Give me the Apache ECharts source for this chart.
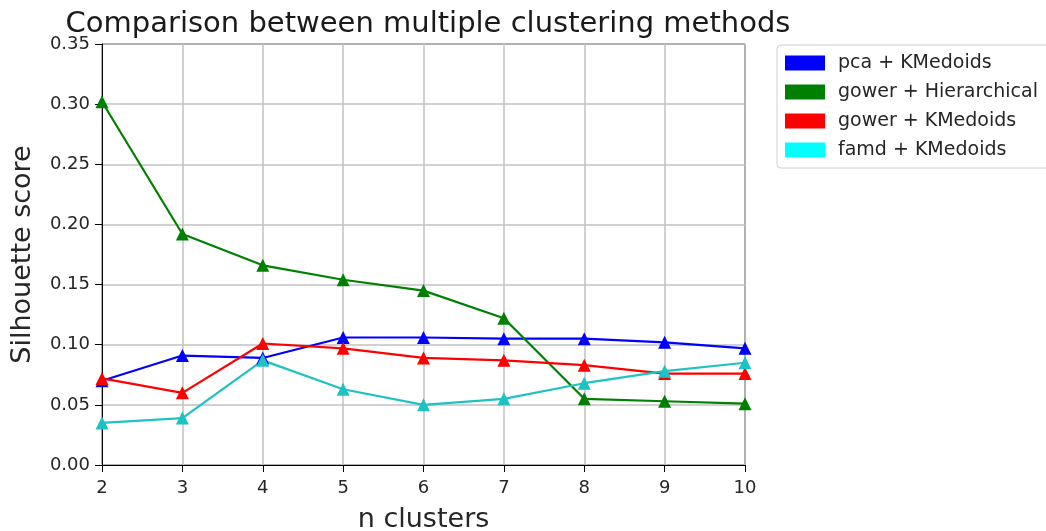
<!DOCTYPE html>
<html><head><meta charset="utf-8">
<script src="https://cdn.jsdelivr.net/npm/echarts@6/dist/echarts.min.js"></script>
<style>html,body{margin:0;padding:0;background:#fff}#c{width:1046px;height:531px}</style>
</head><body><div id="c"></div>
<script>
const nClusters = [2, 3, 4, 5, 6, 7, 8, 9, 10];
const seriesNames = ['pca + KMedoids', 'gower + Hierarchical', 'gower + KMedoids', 'famd + KMedoids'];
const pcaKMedoids = [0.070, 0.091, 0.089, 0.106, 0.106, 0.105, 0.105, 0.102, 0.097];
const gowerHierarchical = [0.302, 0.192, 0.166, 0.154, 0.145, 0.122, 0.055, 0.053, 0.051];
const gowerKMedoids = [0.072, 0.060, 0.101, 0.097, 0.089, 0.087, 0.083, 0.076, 0.076];
const famdKMedoids = [0.035, 0.039, 0.087, 0.063, 0.050, 0.055, 0.068, 0.078, 0.085];
const yTicks = [0, 0.05, 0.10, 0.15, 0.20, 0.25, 0.30, 0.35];

const lineColors = ['#0000ff', '#008000', '#ff0000', '#1fc2c2'];
const legendColors = ['#0000ff', '#008000', '#ff0000', '#00ffff'];
const allValues = [pcaKMedoids, gowerHierarchical, gowerKMedoids, famdKMedoids];

const font = 'DejaVu Sans';
const chart = echarts.init(document.getElementById('c'));
chart.setOption({
  animation: false,
  backgroundColor: '#fff',
  textStyle: { fontFamily: font },
  title: {
    text: 'Comparison between multiple clustering methods',
    left: 423, textAlign: 'center', top: 5,
    textStyle: { fontFamily: font, fontSize: 29, fontWeight: 'normal', color: '#1a1a1a' }
  },
  legend: {
    orient: 'vertical', left: 777, top: 45,
    icon: 'rect', itemWidth: 40, itemHeight: 15, itemGap: 9,
    padding: [8, 30, 8, 8],
    borderColor: '#d0d0d0', borderWidth: 1, borderRadius: 4,
    textStyle: { fontFamily: font, fontSize: 19, lineHeight: 20, color: '#262626', padding: [0, 0, 0, 8] },
    data: seriesNames.map((n, i) => ({ name: n, itemStyle: { color: legendColors[i] } }))
  },
  grid: { left: 102, right: 301, top: 44, bottom: 66, show: true, borderColor: '#000', borderWidth: 1,
    containLabel: false, outerBoundsMode: 'none' },
  xAxis: {
    type: 'value', min: 2, max: 10, interval: 1,
    name: 'n clusters', nameLocation: 'middle', nameGap: 41,
    nameTextStyle: { fontFamily: font, fontSize: 27, color: '#262626' },
    axisLine: { show: true, lineStyle: { color: '#000' } },
    axisTick: { show: true, length: 7, lineStyle: { color: '#000' } },
    axisLabel: { fontFamily: font, fontSize: 18, color: '#262626', margin: 14 },
    splitLine: { show: true, lineStyle: { color: '#c2c2c2', width: 1.5 } }
  },
  yAxis: {
    type: 'value', min: 0, max: 0.35, interval: 0.05,
    name: 'Silhouette score', nameLocation: 'middle', nameGap: 66,
    nameTextStyle: { fontFamily: font, fontSize: 27, color: '#262626' },
    axisLine: { show: true, lineStyle: { color: '#000' } },
    axisTick: { show: true, length: 7, lineStyle: { color: '#000' } },
    axisLabel: { fontFamily: font, fontSize: 18, color: '#262626', margin: 12,
      formatter: v => { const t = yTicks.find(k => Math.abs(k - v) < 1e-9); return (t !== undefined ? t : v).toFixed(2); } },
    splitLine: { show: true, lineStyle: { color: '#c2c2c2', width: 1.5 } }
  },
  series: seriesNames.map((n, i) => ({
    name: n, type: 'line',
    data: nClusters.map((x, j) => [x, allValues[i][j]]),
    symbol: 'triangle', symbolSize: 13, showAllSymbol: true,
    lineStyle: { color: lineColors[i], width: 2.2 },
    itemStyle: { color: lineColors[i] },
    clip: false
  }))
});
</script></body></html>
